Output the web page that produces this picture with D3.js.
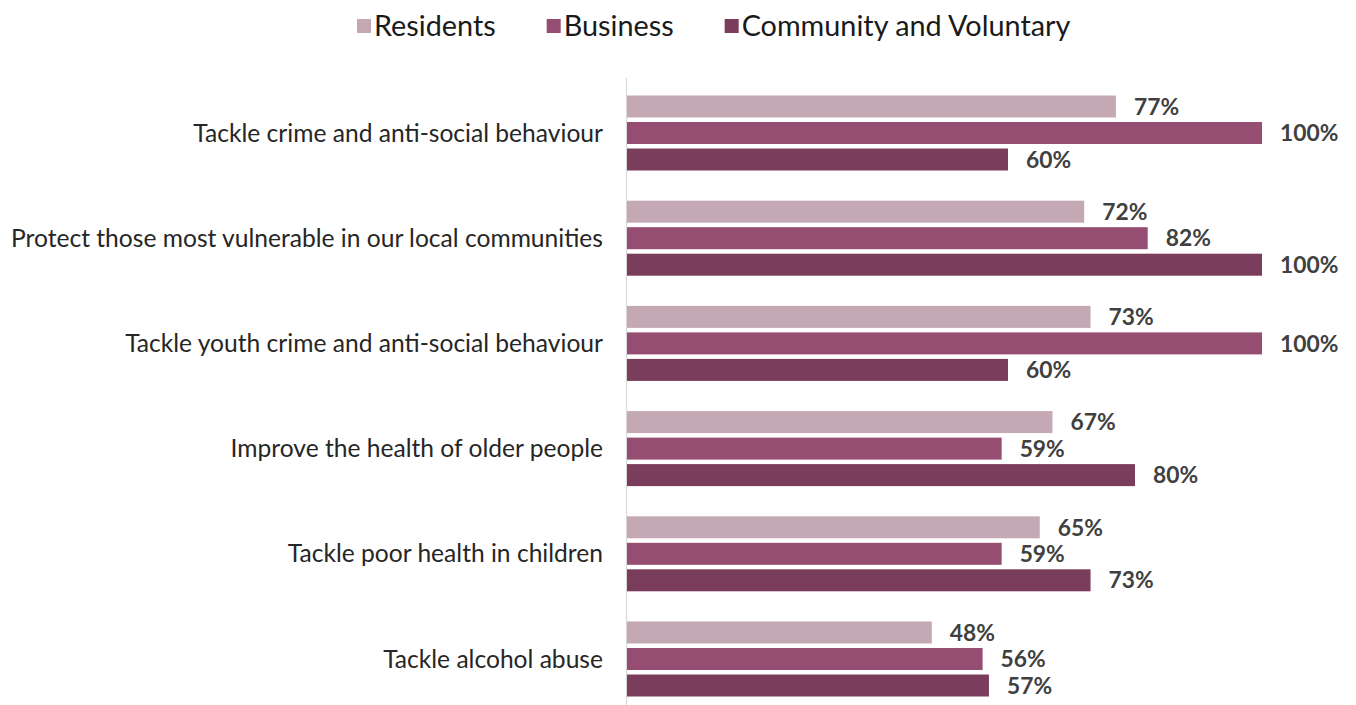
<!DOCTYPE html>
<html><head><meta charset="utf-8">
<script src="https://cdn.jsdelivr.net/npm/d3@7"></script>
<style>body{margin:0;background:#fff;} svg{display:block;}</style>
</head><body>
<svg id="chart" width="1356" height="705"></svg>
<script>
const categories = [
  "Tackle crime and anti-social behaviour",
  "Protect those most vulnerable in our local communities",
  "Tackle youth crime and anti-social behaviour",
  "Improve the health of older people",
  "Tackle poor health in children",
  "Tackle alcohol abuse"
];
const seriesNames = ["Residents", "Business", "Community and Voluntary"];
const residents = [77, 72, 73, 67, 65, 48];
const business = [100, 82, 100, 59, 59, 56];
const community = [60, 100, 60, 80, 73, 57];
const colors = ["#c4a9b5", "#954d71", "#7a3d5c"];

const seriesValues = [residents, business, community];
const svg = d3.select("#chart");
const font = "Lato, 'Open Sans', sans-serif";

const x = d3.scaleLinear().domain([0, 100]).range([627, 1262]);
const y0 = d3.scaleBand().domain(categories).range([80.4, 711.6]).paddingInner(0.287).paddingOuter(0.1435);
const y1 = d3.scaleBand().domain(seriesNames).range([0, y0.bandwidth()]).paddingInner(0.17).paddingOuter(0);
const color = d3.scaleOrdinal().domain(seriesNames).range(colors);

// axis line
svg.append("line").attr("x1", 626.5).attr("x2", 626.5).attr("y1", 78).attr("y2", 705)
  .attr("stroke", "#d9d9d9").attr("stroke-width", 1.2);

const groups = svg.selectAll("g.cat").data(categories).join("g")
  .attr("class", "cat").attr("transform", d => `translate(0,${y0(d)})`);

groups.each(function(cat, ci) {
  const g = d3.select(this);
  const rows = seriesNames.map((s, si) => ({s, v: seriesValues[si][ci]}));
  g.selectAll("rect").data(rows).join("rect")
    .attr("x", x(0)).attr("y", d => y1(d.s))
    .attr("width", d => x(d.v) - x(0)).attr("height", y1.bandwidth())
    .attr("fill", d => color(d.s));
  g.selectAll("text.val").data(rows).join("text").attr("class", "val")
    .attr("x", d => x(d.v) + 18).attr("y", d => y1(d.s) + y1.bandwidth() / 2)
    .attr("dy", "0.36em")
    .attr("font-family", font).attr("font-weight", "bold").attr("font-size", 22.8)
    .attr("fill", "#404040").text(d => d.v + "%");
});

// category labels
svg.selectAll("text.cat").data(categories).join("text").attr("class", "cat")
  .attr("x", 603).attr("y", d => y0(d) + y0.bandwidth() / 2).attr("dy", "0.35em")
  .attr("text-anchor", "end").attr("font-family", font).attr("font-size", 24.6)
  .attr("fill", "#262626").text(d => d);

// legend
let lx = 357;
seriesNames.forEach((s, i) => {
  svg.append("rect").attr("x", lx).attr("y", 19).attr("width", 14).attr("height", 14).attr("fill", colors[i]);
  const t = svg.append("text").attr("x", lx + 17).attr("y", 36)
    .attr("font-family", font).attr("font-size", 28.8).attr("fill", "#1a1a1a").text(s);
  lx += 17 + t.node().getComputedTextLength() + 51;
});
</script>
</body></html>
